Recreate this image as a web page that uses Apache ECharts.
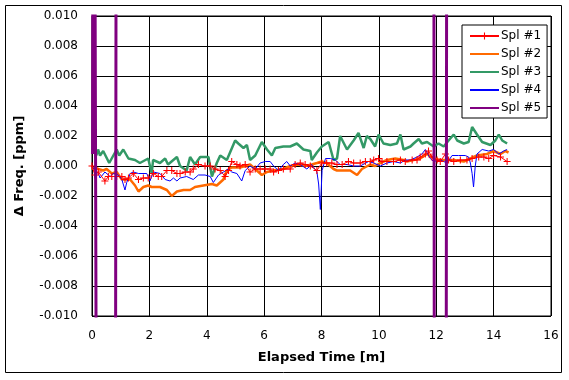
<!DOCTYPE html>
<html>
<head>
<meta charset="utf-8">
<script src="https://cdn.jsdelivr.net/npm/echarts@6/dist/echarts.min.js"></script>
<style>
html,body{margin:0;padding:0;background:#fff;}
#chart{width:569px;height:380px;}
</style>
</head>
<body>
<div id="chart"></div>
<script>
var seriesNames = ['Spl #1', 'Spl #2', 'Spl #3', 'Spl #4', 'Spl #5'];
var xTicks = [0, 2, 4, 6, 8, 10, 12, 14, 16];
var yTicks = [-0.010, -0.008, -0.006, -0.004, -0.002, 0.000, 0.002, 0.004, 0.006, 0.008, 0.010];

// Spl #1
var t1 = [0, 0.10, 0.22, 0.45, 0.57, 0.69, 0.86, 1.04, 1.15, 1.27,
  1.44, 1.62, 1.79, 1.96, 2.14, 2.31, 2.43, 2.61, 2.78, 2.96,
  3.07, 3.25, 3.42, 3.53, 3.71, 3.94, 4.12, 4.29, 4.47, 4.64,
  4.76, 4.87, 5.05, 5.16, 5.34, 5.51, 5.69, 5.86, 6.04, 6.21,
  6.33, 6.50, 6.67, 6.91, 7.08, 7.26, 7.43, 7.61, 7.84, 8.01,
  8.18, 8.36, 8.54, 8.72, 8.94, 9.12, 9.35, 9.53, 9.70, 9.82,
  9.99, 10.11, 10.28, 10.51, 10.75, 10.92, 11.16, 11.33, 11.44, 11.62,
  11.73, 11.85, 12.03, 12.14, 12.32, 12.43, 12.61, 12.84, 13.07, 13.25,
  13.48, 13.66, 13.83, 14.00, 14.24, 14.47];
var s1 = [0.0000, -0.0006, -0.0004, -0.0010, -0.0007, -0.0007, -0.0007, -0.0007, -0.0009, -0.0008,
  -0.0005, -0.0009, -0.0008, -0.0008, -0.0005, -0.0007, -0.0007, -0.0003, -0.0003, -0.0005,
  -0.0005, -0.0004, -0.0004, -0.0002, 0.0001, 0.0000, 0.0000, -0.0002, -0.0003, -0.0007,
  -0.0003, 0.0003, 0.0001, 0.0000, 0.0001, -0.0004, -0.0002, -0.0002, -0.0002, -0.0002,
  -0.0004, -0.0003, -0.0002, -0.0002, 0.0001, 0.0002, 0.0001, 0.0000, -0.0003, 0.0002,
  0.0002, 0.0002, 0.0001, 0.0001, 0.0003, 0.0002, 0.0002, 0.0003, 0.0003, 0.0004,
  0.0005, 0.0003, 0.0003, 0.0003, 0.0004, 0.0003, 0.0004, 0.0004, 0.0006, 0.0008,
  0.0010, 0.0006, 0.0004, 0.0003, 0.0008, 0.0004, 0.0003, 0.0004, 0.0004, 0.0005,
  0.0006, 0.0006, 0.0005, 0.0007, 0.0006, 0.0003];

// Spl #2
var t2 = [0, 0.10, 0.22, 0.39, 0.51, 0.69, 0.86, 1.04, 1.15, 1.33,
  1.50, 1.62, 1.79, 1.96, 2.08, 2.37, 2.61, 2.78, 2.96, 3.19,
  3.42, 3.59, 3.88, 4.18, 4.35, 4.58, 4.70, 4.87, 5.16, 5.51,
  5.92, 6.10, 6.33, 6.67, 6.91, 7.20, 7.43, 7.66, 7.84, 8.01,
  8.18, 8.42, 8.54, 8.77, 9.00, 9.24, 9.41, 9.70, 9.87, 10.05,
  10.28, 10.57, 10.86, 10.98, 11.44, 11.68, 11.91, 12.14, 12.38, 12.61,
  12.96, 13.19, 13.42, 13.77, 14.00, 14.24, 14.41, 14.52];
var s2 = [-0.0002, -0.0001, -0.0002, -0.0003, -0.0002, -0.0005, -0.0004, -0.0009, -0.0009, -0.0009,
  -0.0013, -0.0017, -0.0014, -0.0013, -0.0014, -0.0014, -0.0016, -0.0020, -0.0017, -0.0016,
  -0.0016, -0.0014, -0.0013, -0.0012, -0.0013, -0.0009, -0.0003, -0.0001, -0.0001, 0.0001,
  -0.0006, -0.0004, -0.0003, -0.0002, 0.0000, 0.0001, 0.0000, 0.0001, 0.0002, 0.0003,
  0.0002, -0.0002, -0.0003, -0.0003, -0.0003, -0.0006, -0.0002, 0.0001, 0.0000, 0.0002,
  0.0004, 0.0005, 0.0004, 0.0003, 0.0005, 0.0008, 0.0005, 0.0004, 0.0004, 0.0004,
  0.0003, 0.0005, 0.0007, 0.0008, 0.0010, 0.0008, 0.0010, 0.0009];

// Spl #3
var t3 = [0.15, 0.21, 0.28, 0.39, 0.60, 0.86, 0.95, 1.09, 1.27, 1.50,
  1.67, 1.96, 2.08, 2.13, 2.37, 2.55, 2.65, 2.96, 3.07, 3.30,
  3.42, 3.59, 3.77, 4.06, 4.18, 4.35, 4.47, 4.70, 4.99, 5.10,
  5.28, 5.40, 5.51, 5.69, 5.92, 6.10, 6.27, 6.39, 6.67, 6.91,
  7.14, 7.37, 7.61, 7.66, 7.84, 8.01, 8.25, 8.42, 8.54, 8.65,
  8.89, 9.12, 9.29, 9.47, 9.58, 9.70, 9.87, 9.99, 10.16, 10.40,
  10.63, 10.75, 10.86, 11.10, 11.21, 11.39, 11.50, 11.68, 11.91, 12.08,
  12.26, 12.43, 12.61, 12.73, 12.96, 13.13, 13.25, 13.42, 13.60, 13.89,
  14.06, 14.18, 14.30, 14.47];
var s3 = [0.0007, 0.0011, 0.0007, 0.0010, 0.0002, 0.0011, 0.0007, 0.0011, 0.0005, 0.0004,
  0.0002, 0.0005, -0.0005, 0.0004, 0.0002, 0.0005, 0.0001, 0.0006, 0.0000, -0.0003,
  0.0006, 0.0001, 0.0006, 0.0006, -0.0007, 0.0002, 0.0007, 0.0004, 0.0017, 0.0015,
  0.0012, 0.0014, 0.0004, 0.0007, 0.0016, 0.0011, 0.0007, 0.0012, 0.0013, 0.0013,
  0.0015, 0.0011, 0.0010, 0.0004, 0.0009, 0.0013, 0.0016, 0.0004, 0.0005, 0.0020,
  0.0011, 0.0017, 0.0022, 0.0012, 0.0020, 0.0018, 0.0013, 0.0021, 0.0015, 0.0014,
  0.0015, 0.0021, 0.0011, 0.0013, 0.0015, 0.0018, 0.0015, 0.0016, 0.0013, 0.0015,
  0.0013, 0.0017, 0.0021, 0.0017, 0.0015, 0.0016, 0.0026, 0.0021, 0.0016, 0.0014,
  0.0017, 0.0021, 0.0017, 0.0015];

// Spl #4
var t4 = [0, 0.10, 0.22, 0.28, 0.45, 0.63, 0.74, 0.92, 1.04, 1.15,
  1.21, 1.33, 1.44, 1.62, 1.91, 2.02, 2.14, 2.37, 2.55, 2.72,
  2.84, 2.96, 3.07, 3.30, 3.53, 3.71, 3.94, 4.12, 4.23, 4.41,
  4.58, 4.76, 4.87, 5.05, 5.22, 5.28, 5.34, 5.51, 5.69, 5.86,
  6.04, 6.21, 6.33, 6.50, 6.67, 6.79, 6.91, 7.08, 7.26, 7.49,
  7.66, 7.84, 7.90, 7.96, 8.02, 8.14, 8.31, 8.48, 8.65, 8.89,
  9.12, 9.35, 9.64, 9.82, 10.05, 10.28, 10.51, 10.75, 10.92, 11.10,
  11.33, 11.50, 11.62, 11.79, 11.91, 12.14, 12.38, 12.55, 12.78, 13.01,
  13.13, 13.19, 13.25, 13.30, 13.36, 13.42, 13.60, 13.83, 14.00, 14.18,
  14.35, 14.47];
var s4 = [0.0000, -0.0003, -0.0005, -0.0008, -0.0004, -0.0007, -0.0005, -0.0006, -0.0009, -0.0016,
  -0.0011, -0.0005, -0.0004, -0.0005, -0.0005, -0.0010, -0.0004, -0.0005, -0.0009, -0.0010,
  -0.0008, -0.0010, -0.0008, -0.0007, -0.0009, -0.0006, -0.0006, -0.0007, -0.0011, -0.0006,
  -0.0004, -0.0002, -0.0004, -0.0005, -0.0010, -0.0011, -0.0003, 0.0000, -0.0002, 0.0002,
  0.0003, 0.0003, 0.0000, -0.0003, 0.0001, 0.0003, 0.0000, 0.0002, 0.0001, -0.0002,
  0.0001, -0.0004, -0.0012, -0.0029, -0.0003, 0.0005, 0.0005, 0.0004, 0.0001, 0.0001,
  0.0000, 0.0000, 0.0003, 0.0002, 0.0000, 0.0002, 0.0003, 0.0002, 0.0004, 0.0004,
  0.0006, 0.0008, 0.0011, 0.0005, 0.0003, 0.0004, 0.0002, 0.0007, 0.0007, 0.0007,
  0.0006, 0.0002, -0.0005, -0.0014, 0.0000, 0.0008, 0.0011, 0.0010, 0.0011, 0.0008,
  0.0010, 0.0011];

// Spl #5 (mostly off scale)
var t5 = [0.02, 0.05, 0.20, 0.80, 0.86, 11.90, 11.95, 12.33, 12.38, 12.50];
var s5 = [0.0008, 0.05, -0.05, -0.05, 0.05, 0.05, -0.05, -0.05, 0.05, 0.05];

function pairs(t, s) { return t.map(function (x, i) { return [x, s[i]]; }); }

var colors = ['#ff0000', '#ff6a00', '#339966', '#0000ff', '#800080'];
var widths = [1, 2.5, 2.5, 1, 3];
var times = [t1, t2, t3, t4, t5];
var vals = [s1, s2, s3, s4, s5];
var zs = [4, 2, 3, 3, 6];
var plus = 'path://M-0.15,-1H0.15V-0.15H1V0.15H0.15V1H-0.15V0.15H-1V-0.15H-0.15Z';

var series = seriesNames.map(function (name, i) {
  return {
    name: name,
    type: 'line',
    data: pairs(times[i], vals[i]),
    z: zs[i],
    showSymbol: i === 0,
    symbol: i === 0 ? plus : 'none',
    symbolSize: 7,
    itemStyle: { color: colors[i] },
    lineStyle: { color: colors[i], width: widths[i] },
    clip: true,
    silent: true,
    animation: false
  };
});

var legendData = seriesNames.map(function (name, i) {
  return i === 0 ? { name: name } : { name: name, itemStyle: { opacity: 0 } };
});

var chart = echarts.init(document.getElementById('chart'), null, { renderer: 'canvas' });
var font = 'DejaVu Sans';
chart.setOption({
  backgroundColor: '#ffffff',
  animation: false,
  textStyle: { fontFamily: font },
  grid: { left: 92, top: 16, right: 18, bottom: 64, show: true, borderColor: '#000', borderWidth: 1, backgroundColor: '#fff' },
  graphic: [{
    type: 'rect', silent: true, z: -10,
    shape: { x: 5.5, y: 5.5, width: 556, height: 367 },
    style: { fill: 'none', stroke: '#000', lineWidth: 1 }
  }],
  legend: {
    orient: 'vertical',
    left: 462, top: 25,
    padding: [4, 6, 3, 7],
    itemGap: 4,
    itemWidth: 29, itemHeight: 9,
    backgroundColor: '#fff',
    borderColor: '#000', borderWidth: 1, borderRadius: 0,
    textStyle: { fontFamily: font, fontSize: 12, color: '#000', padding: [0, 0, 0, -3], lineHeight: 14 },
    data: legendData
  },
  xAxis: {
    type: 'value', min: xTicks[0], max: xTicks[xTicks.length - 1], interval: 2,
    name: 'Elapsed Time [m]', nameLocation: 'middle', nameGap: 35,
    nameTextStyle: { fontFamily: font, fontSize: 13, fontWeight: 'bold', color: '#000' },
    axisLine: { lineStyle: { color: '#000', width: 1 } },
    axisTick: { show: false },
    axisLabel: { fontFamily: font, fontSize: 12, color: '#000', margin: 14 },
    splitLine: { show: true, lineStyle: { color: '#000', width: 1 } }
  },
  yAxis: {
    type: 'value', min: yTicks[0], max: yTicks[yTicks.length - 1], interval: 0.002,
    name: 'Δ Freq. [ppm]', nameLocation: 'middle', nameGap: 66,
    nameTextStyle: { fontFamily: font, fontSize: 13, fontWeight: 'bold', color: '#000' },
    axisLine: { show: true, lineStyle: { color: '#000', width: 1 } },
    axisTick: { show: false },
    axisLabel: {
      fontFamily: font, fontSize: 12, color: '#000', margin: 14,
      formatter: function (v) { return Math.abs(v) < 1e-9 ? '0.000' : v.toFixed(3); }
    },
    splitLine: { show: true, lineStyle: { color: '#000', width: 1 } }
  },
  series: series
});
</script>
</body>
</html>
